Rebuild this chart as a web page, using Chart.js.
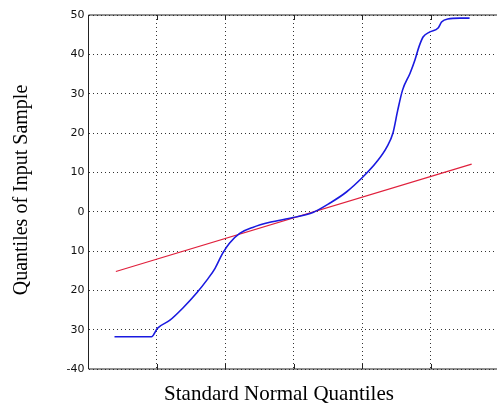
<!DOCTYPE html>
<html>
<head>
<meta charset="utf-8">
<script src="https://cdn.jsdelivr.net/npm/chart.js@4.4.1/dist/chart.umd.min.js"></script>
<style>
  html, body { margin: 0; padding: 0; background: #fff; overflow: hidden; }
  #wrap { width: 500px; height: 409px; position: relative; }
</style>
</head>
<body>
<div id="wrap"><canvas id="qqChart"></canvas></div>
<script>
// sample quantiles vs standard normal quantiles
const normalQuantiles = [-2.62, -2.43, -2.08, -1.99, -1.81, -1.62, -1.42, -1.27, -1.15, -1.04, -0.94, -0.79, -0.60, -0.35, -0.01, 0.28, 0.53, 0.77, 1.01, 1.21, 1.36, 1.45, 1.52, 1.59, 1.70, 1.77, 1.83, 1.89, 1.99, 2.11, 2.16, 2.25, 2.43, 2.57];
const sampleQuantiles = [-31.8, -31.8, -31.8, -29.6, -27.6, -24.5, -20.7, -17.4, -14.4, -10.6, -8.0, -5.5, -4.0, -2.7, -1.5, -0.2, 2.2, 5.0, 8.8, 12.6, 16.4, 20.0, 25.8, 30.9, 35.2, 38.5, 41.9, 44.4, 45.7, 46.7, 48.2, 49.0, 49.2, 49.2];

// reference line
const refLineX = [-2.6, 2.6];
const refLineY = [-15.2, 12.1];

// y tick labels as they appear on the figure
const yTickValues = [-40, -30, -20, -10, 0, 10, 20, 30, 40, 50];
const yTickLabels = ['-40', '30', '20', '10', '0', '10', '20', '30', '40', '50'];

const xTitle = 'Standard Normal Quantiles';
const yTitle = 'Quantiles of Input Sample';

const toPoints = (xs, ys) => xs.map((x, i) => ({ x: x, y: ys[i] }));

const framePlugin = {
    id: 'frame',
    afterDraw(chart) {
        const ctx = chart.ctx;
        const a = chart.chartArea;
        const xs = chart.scales.x;
        ctx.save();
        ctx.strokeStyle = '#222';
        ctx.lineWidth = 1;
        ctx.beginPath();
        ctx.moveTo(a.right + 1, a.top);
        ctx.lineTo(a.left, a.top);
        ctx.lineTo(a.left, a.bottom);
        ctx.lineTo(a.right + 1, a.bottom);
        // small inward ticks on x axis
        for (let v = -2; v <= 2; v++) {
            const px = Math.round(xs.getPixelForValue(v)) + 0.5;
            ctx.moveTo(px, a.bottom);
            ctx.lineTo(px, a.bottom - 5);
            ctx.moveTo(px, a.top);
            ctx.lineTo(px, a.top + 5);
        }
        ctx.stroke();

        ctx.fillStyle = '#000';
        ctx.textAlign = 'center';
        ctx.textBaseline = 'middle';
        ctx.font = '21px "Liberation Serif"';
        ctx.fillText(xTitle, 279, 394);
        ctx.font = '20px "Liberation Serif"';
        ctx.translate(22, 190);
        ctx.rotate(-Math.PI / 2);
        ctx.fillText(yTitle, 0, 0);
        ctx.restore();
    }
};

new Chart(document.getElementById('qqChart'), {
    type: 'scatter',
    data: {
        datasets: [
            {
                label: 'sample',
                data: toPoints(normalQuantiles, sampleQuantiles),
                showLine: true,
                borderColor: '#1a1ae0',
                borderWidth: 1.6,
                pointRadius: 0,
                cubicInterpolationMode: 'monotone'
            },
            {
                label: 'reference',
                data: toPoints(refLineX, refLineY),
                showLine: true,
                borderColor: '#e0203c',
                borderWidth: 1.2,
                pointRadius: 0
            }
        ]
    },
    options: {
        responsive: true,
        maintainAspectRatio: false,
        animation: false,
        layout: { padding: { top: 15, right: 1, left: 0, bottom: 0 } },
        plugins: {
            legend: { display: false },
            tooltip: { enabled: false }
        },
        scales: {
            x: {
                type: 'linear',
                min: -3,
                max: 3,
                ticks: { stepSize: 1, display: false },
                grid: { color: '#333', lineWidth: 1, drawTicks: false },
                border: { display: false, dash: [1, 3] },
                afterFit(scale) { scale.height = 40; }
            },
            y: {
                type: 'linear',
                min: -40,
                max: 50,
                afterBuildTicks(scale) {
                    scale.ticks = yTickValues.map(v => ({ value: v }));
                },
                ticks: {
                    color: '#111',
                    font: { family: 'DejaVu Sans', size: 11 },
                    padding: 4,
                    callback: (v) => yTickLabels[yTickValues.indexOf(v)]
                },
                grid: { color: '#333', lineWidth: 1, drawTicks: false },
                border: { display: false, dash: [1, 3] },
                afterFit(scale) { scale.width = 88.5; }
            }
        }
    },
    plugins: [framePlugin]
});
</script>
</body>
</html>
